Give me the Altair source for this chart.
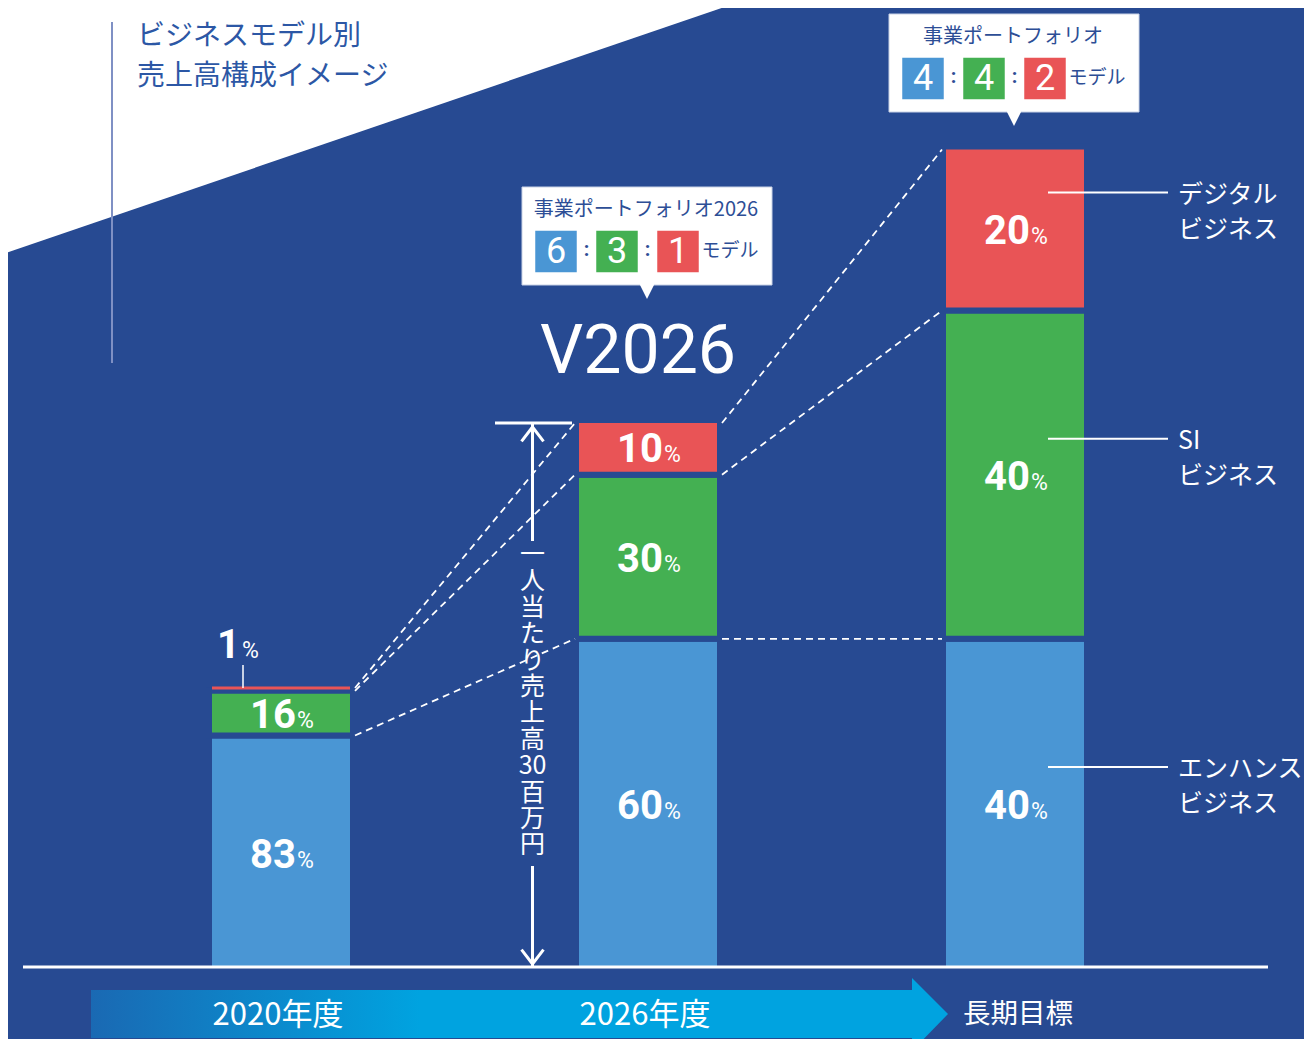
import altair as alt
import pandas as pd

# ---------------- data ----------------
periods = ["2020年度", "2026年度", "長期目標"]
segments = ["エンハンス\nビジネス", "SI\nビジネス", "デジタル\nビジネス"]
shares = [[83, 16, 1], [60, 30, 10], [40, 40, 20]]      # % of each bar
totals = [51, 100, 150]                                   # relative sales per person (2026 = 100)
portfolio_titles = ["", "事業ポートフォリオ2026", "事業ポートフォリオ"]
portfolio_ratios = [[], ["6", "3", "1"], ["4", "4", "2"]]
model_word = "モデル"
arrow_chars = ["一", "人", "当", "た", "り", "売", "上", "高", "30", "百", "万", "円"]
title_lines = ["ビジネスモデル別", "売上高構成イメージ"]
headline = "V2026"

# ---------------- style / layout ----------------
seg_colors = ["#4A96D4", "#44B052", "#E95456"]
BG = "#274A92"
INK = "#2D4E96"
CJK = "Noto Sans CJK JP"
NUM = "Roboto"

W, H, M = 1296, 1031, 8
BASE = 967.0       # baseline (page px)
PPU = 5.47         # px per unit
STEP = 367.0       # px between bar centres
C0 = 281.0         # first bar centre (page px)
G = 3.0 / PPU      # half gap between stacked segments
HALF = 69.0        # half visible bar width


def X(px):
    return (px - C0) / STEP


def Y(py):
    return (BASE - py) / PPU


def bx(i, px):
    return i + px / STEP


def up(v, px):
    return v + px / PPU


xs = alt.Scale(domain=[X(M), X(M + W)], nice=False, zero=False, padding=0)
ys = alt.Scale(domain=[Y(M + H), Y(M)], nice=False, zero=False, padding=0)


def enc(x2=False, y2=False, **kw):
    e = dict(x=alt.X("x:Q", scale=xs, axis=None), y=alt.Y("y:Q", scale=ys, axis=None))
    if x2:
        e["x2"] = alt.X2("x2:Q")
    if y2:
        e["y2"] = alt.Y2("y2:Q")
    e.update(kw)
    return e


def txt(rows, **mk):
    return alt.Chart(pd.DataFrame(rows)).mark_text(**mk).encode(**enc(), text="t:N")


layers = []

# white triangle top-left
tri = pd.DataFrame({"x": [X(0), X(745)], "y": [Y(0), Y(0)], "y2": [Y(255), Y(0)]})
layers.append(alt.Chart(tri).mark_area(color="white", opacity=1).encode(**enc(y2=True)))

# vertical line + title
layers.append(alt.Chart(pd.DataFrame({"x": [X(112)], "y": [Y(22)], "y2": [Y(363)]}))
              .mark_rule(color="#7F90C4", strokeWidth=2).encode(**enc(y2=True)))
layers.append(txt([{"x": X(137), "y": Y(37 + 40 * k), "t": t} for k, t in enumerate(title_lines)],
                  align="left", baseline="middle", font=CJK, fontSize=28, color="#2C57A5"))

# bottom arrow band
band = pd.DataFrame({"x": [X(91)], "x2": [X(913)], "y": [Y(990)], "y2": [Y(1038)]})
layers.append(alt.Chart(band).mark_rect(
    color=alt.Gradient(gradient="linear", x1=0, x2=1, y1=0, y2=0,
                       stops=[alt.GradientStop(offset=0, color="#1A69B3"),
                              alt.GradientStop(offset=0.4, color="#00A3E0"),
                              alt.GradientStop(offset=1, color="#00A3E0")])
).encode(**enc(x2=True, y2=True)))
head = pd.DataFrame({"x": [X(912), X(948)], "y": [Y(978), Y(1014)], "y2": [Y(1051), Y(1014)]})
layers.append(alt.Chart(head).mark_area(color="#00A3E0", opacity=1).encode(**enc(y2=True)))
layers.append(txt([{"x": bx(i, -3), "y": Y(1016), "t": p} for i, p in enumerate(periods[:2])],
                  align="center", baseline="middle", font=CJK, fontSize=31, color="white"))
layers.append(txt([{"x": bx(2, 3), "y": Y(1015), "t": periods[2]}],
                  align="center", baseline="middle", font=CJK, fontSize=27.5, color="white"))

# ---------------- stacked bars ----------------
rows = []
cums = []
for i, (tot, sh) in enumerate(zip(totals, shares)):
    cum = 0.0
    c = []
    for k, s in enumerate(sh):
        v = tot * s / 100.0
        lo, hi = cum, cum + v
        rows.append(dict(i=i, k=k, share=s, lo=lo, hi=hi, col=seg_colors[k], thin=s < 5))
        cum = hi
        c.append(hi)
    cums.append(c)
bars = pd.DataFrame(rows)
bars["x"] = bars["i"].astype(float)
bars["y"] = [(-G if k == 0 else lo) for k, lo in zip(bars["k"], bars["lo"])]
bars["y2"] = bars["hi"]
thick = bars[~bars["thin"]].copy()
thin = bars[bars["thin"]].copy()

layers.append(alt.Chart(thick).mark_bar(size=2 * HALF + 6, stroke=BG, strokeWidth=6).encode(
    **enc(y2=True, color=alt.Color("col:N", scale=None))))

# baseline (drawn over bar bottoms)
layers.append(alt.Chart(pd.DataFrame({"x": [X(23)], "x2": [X(1268)], "y": [0.0]}))
              .mark_rule(color="white", strokeWidth=3).encode(**enc(x2=True)))

# thin segment as a line
thin_l = thin.assign(x=thin["i"] - HALF / STEP, x2=thin["i"] + HALF / STEP, y=thin["hi"])
layers.append(alt.Chart(thin_l).mark_rule(strokeWidth=3).encode(
    **enc(x2=True, color=alt.Color("col:N", scale=None))))

# percentage labels
lab = thick.assign(y=(thick["y"] + thick["y2"]) / 2, t=thick["share"].astype(str), p="%")
layers.append(alt.Chart(lab).mark_text(align="right", baseline="alphabetic", dx=15, dy=15,
                                       font=NUM, fontWeight="bold", fontSize=40, color="white")
              .encode(**enc(), text="t:N"))
layers.append(alt.Chart(lab).mark_text(align="left", baseline="alphabetic", dx=16, dy=15,
                                       font=NUM, fontSize=23, color="white")
              .encode(**enc(), text="p:N"))

thin_t = thin.assign(x=thin["i"] - 38 / STEP, y=thin["hi"], y2=thin["hi"] + 23 / PPU,
                     t=thin["share"].astype(str), p="%")
layers.append(alt.Chart(thin_t).mark_rule(color="white", strokeWidth=1.5).encode(**enc(y2=True)))
thin_t2 = thin_t.assign(y=thin_t["hi"] + 30 / PPU)
layers.append(alt.Chart(thin_t2).mark_text(align="right", baseline="alphabetic", dx=-3,
                                           font=NUM, fontWeight="bold", fontSize=40, color="white")
              .encode(**enc(), text="t:N"))
layers.append(alt.Chart(thin_t2).mark_text(align="left", baseline="alphabetic", dx=-1,
                                           font=NUM, fontSize=23, color="white")
              .encode(**enc(), text="p:N"))

# dashed connectors
con = []
for i in range(len(totals) - 1):
    for k in range(3):
        ya, yb = cums[i][k], cums[i + 1][k]
        if k == 2:
            ya = ya if shares[i][k] < 5 else ya - G
            yb = yb - G
        con.append(dict(x=bx(i, HALF + 5), x2=bx(i + 1, -HALF - 4), y=ya, y2=yb))
layers.append(alt.Chart(pd.DataFrame(con)).mark_rule(color="white", strokeWidth=1.8, strokeDash=[7, 5])
              .encode(**enc(x2=True, y2=True)))

# ---------------- per-person sales arrow ----------------
ax = bx(1, -115.5)
top = totals[1] - G
layers.append(alt.Chart(pd.DataFrame([dict(x=bx(1, -153), x2=bx(1, -76), y=top)]))
              .mark_rule(color="white", strokeWidth=3).encode(**enc(x2=True)))
shaft = pd.DataFrame([dict(x=ax, y=top, y2=Y(541)), dict(x=ax, y=Y(866), y2=0.0)])
layers.append(alt.Chart(shaft).mark_rule(color="white", strokeWidth=3).encode(**enc(y2=True)))
layers.append(alt.Chart(pd.DataFrame([dict(x=ax, y=up(top, -4))]))
              .mark_point(shape="M-1,1.3L0,0L1,1.3", size=484, filled=False, color="white",
                          strokeWidth=3, opacity=1).encode(**enc()))
layers.append(alt.Chart(pd.DataFrame([dict(x=ax, y=up(0.0, 3))]))
              .mark_point(shape="M-1,-1.3L0,0L1,-1.3", size=484, filled=False, color="white",
                          strokeWidth=3, opacity=1).encode(**enc()))
layers.append(txt([dict(x=ax, y=Y(543), t="\n".join(arrow_chars))],
                  align="center", baseline="top", lineBreak="\n", lineHeight=26.4,
                  font=CJK, fontSize=25, color="white"))

# headline
layers.append(txt([dict(x=bx(1, -10), y=Y(353), t=headline)],
                  align="center", baseline="middle", font=NUM, fontSize=68, color="white"))

# ---------------- callouts ----------------
box_top = {1: 187.0, 2: 14.0}
boxes, ptr, titles, sq, sq_t, colons, models = [], [], [], [], [], [], []
sq_off = [-92, -31, 30]
col_off = [-61.5, -0.5]
for i, t0 in box_top.items():
    boxes.append(dict(x=bx(i, -126), x2=bx(i, 124), y=Y(t0), y2=Y(t0 + 98)))
    b = t0 + 98
    for ox, y_lo in [(-8, b), (-1, b + 14), (6, b)]:
        ptr.append(dict(g=i, x=bx(i, ox), y=Y(b - 1), y2=Y(y_lo)))
    titles.append(dict(x=bx(i, -2), y=Y(t0 + 23), t=portfolio_titles[i]))
    for k, r in enumerate(portfolio_ratios[i]):
        sq.append(dict(x=bx(i, sq_off[k]), y=Y(t0 + 64.5), col=seg_colors[k]))
        sq_t.append(dict(x=bx(i, sq_off[k]), y=Y(t0 + 65), t=r))
    for o in col_off:
        colons.append(dict(x=bx(i, o), y=Y(t0 + 63), t=":"))
    models.append(dict(x=bx(i, 82), y=Y(t0 + 64), t=model_word))

layers.append(alt.Chart(pd.DataFrame(boxes)).mark_rect(color="white", stroke="#C9D2E6", strokeWidth=1)
              .encode(**enc(x2=True, y2=True)))
layers.append(alt.Chart(pd.DataFrame(ptr)).mark_area(color="white", opacity=1)
              .encode(**enc(y2=True, detail="g:N")))
layers.append(txt(titles, align="center", baseline="middle", font=CJK, fontSize=20, color=INK))
layers.append(alt.Chart(pd.DataFrame(sq)).mark_square(size=42 * 41, opacity=1)
              .encode(**enc(color=alt.Color("col:N", scale=None))))
layers.append(txt(sq_t, align="center", baseline="middle", font=NUM, fontSize=36, color="white"))
layers.append(txt(colons, align="center", baseline="middle", font=NUM, fontWeight="bold", fontSize=20, color=INK))
layers.append(txt(models, align="center", baseline="middle", font=CJK, fontSize=19, color=INK))

# ---------------- right-hand segment labels ----------------
last = len(totals) - 1
leg_lines, leg_text = [], []
for k in range(3):
    lo = cums[last][k - 1] if k > 0 else 0.0
    mid = (lo + cums[last][k]) / 2
    ly = up(mid, 36)
    leg_lines.append(dict(x=bx(last, 33), x2=bx(last, 153), y=ly))
    leg_text.append(dict(x=bx(last, 163), y=ly, t=segments[k]))
layers.append(alt.Chart(pd.DataFrame(leg_lines)).mark_rule(color="white", strokeWidth=2)
              .encode(**enc(x2=True)))
layers.append(txt(leg_text, align="left", baseline="top", dy=-10, lineBreak="\n", lineHeight=35,
                  font=CJK, fontSize=25, color="white"))

chart = alt.layer(*layers).properties(
    width=W, height=H, padding=0, autosize=alt.AutoSizeParams(type="none"),
    background=BG
).configure_view(strokeWidth=0)

chart.save("out.html", embed_options={"renderer": "svg", "actions": False})
